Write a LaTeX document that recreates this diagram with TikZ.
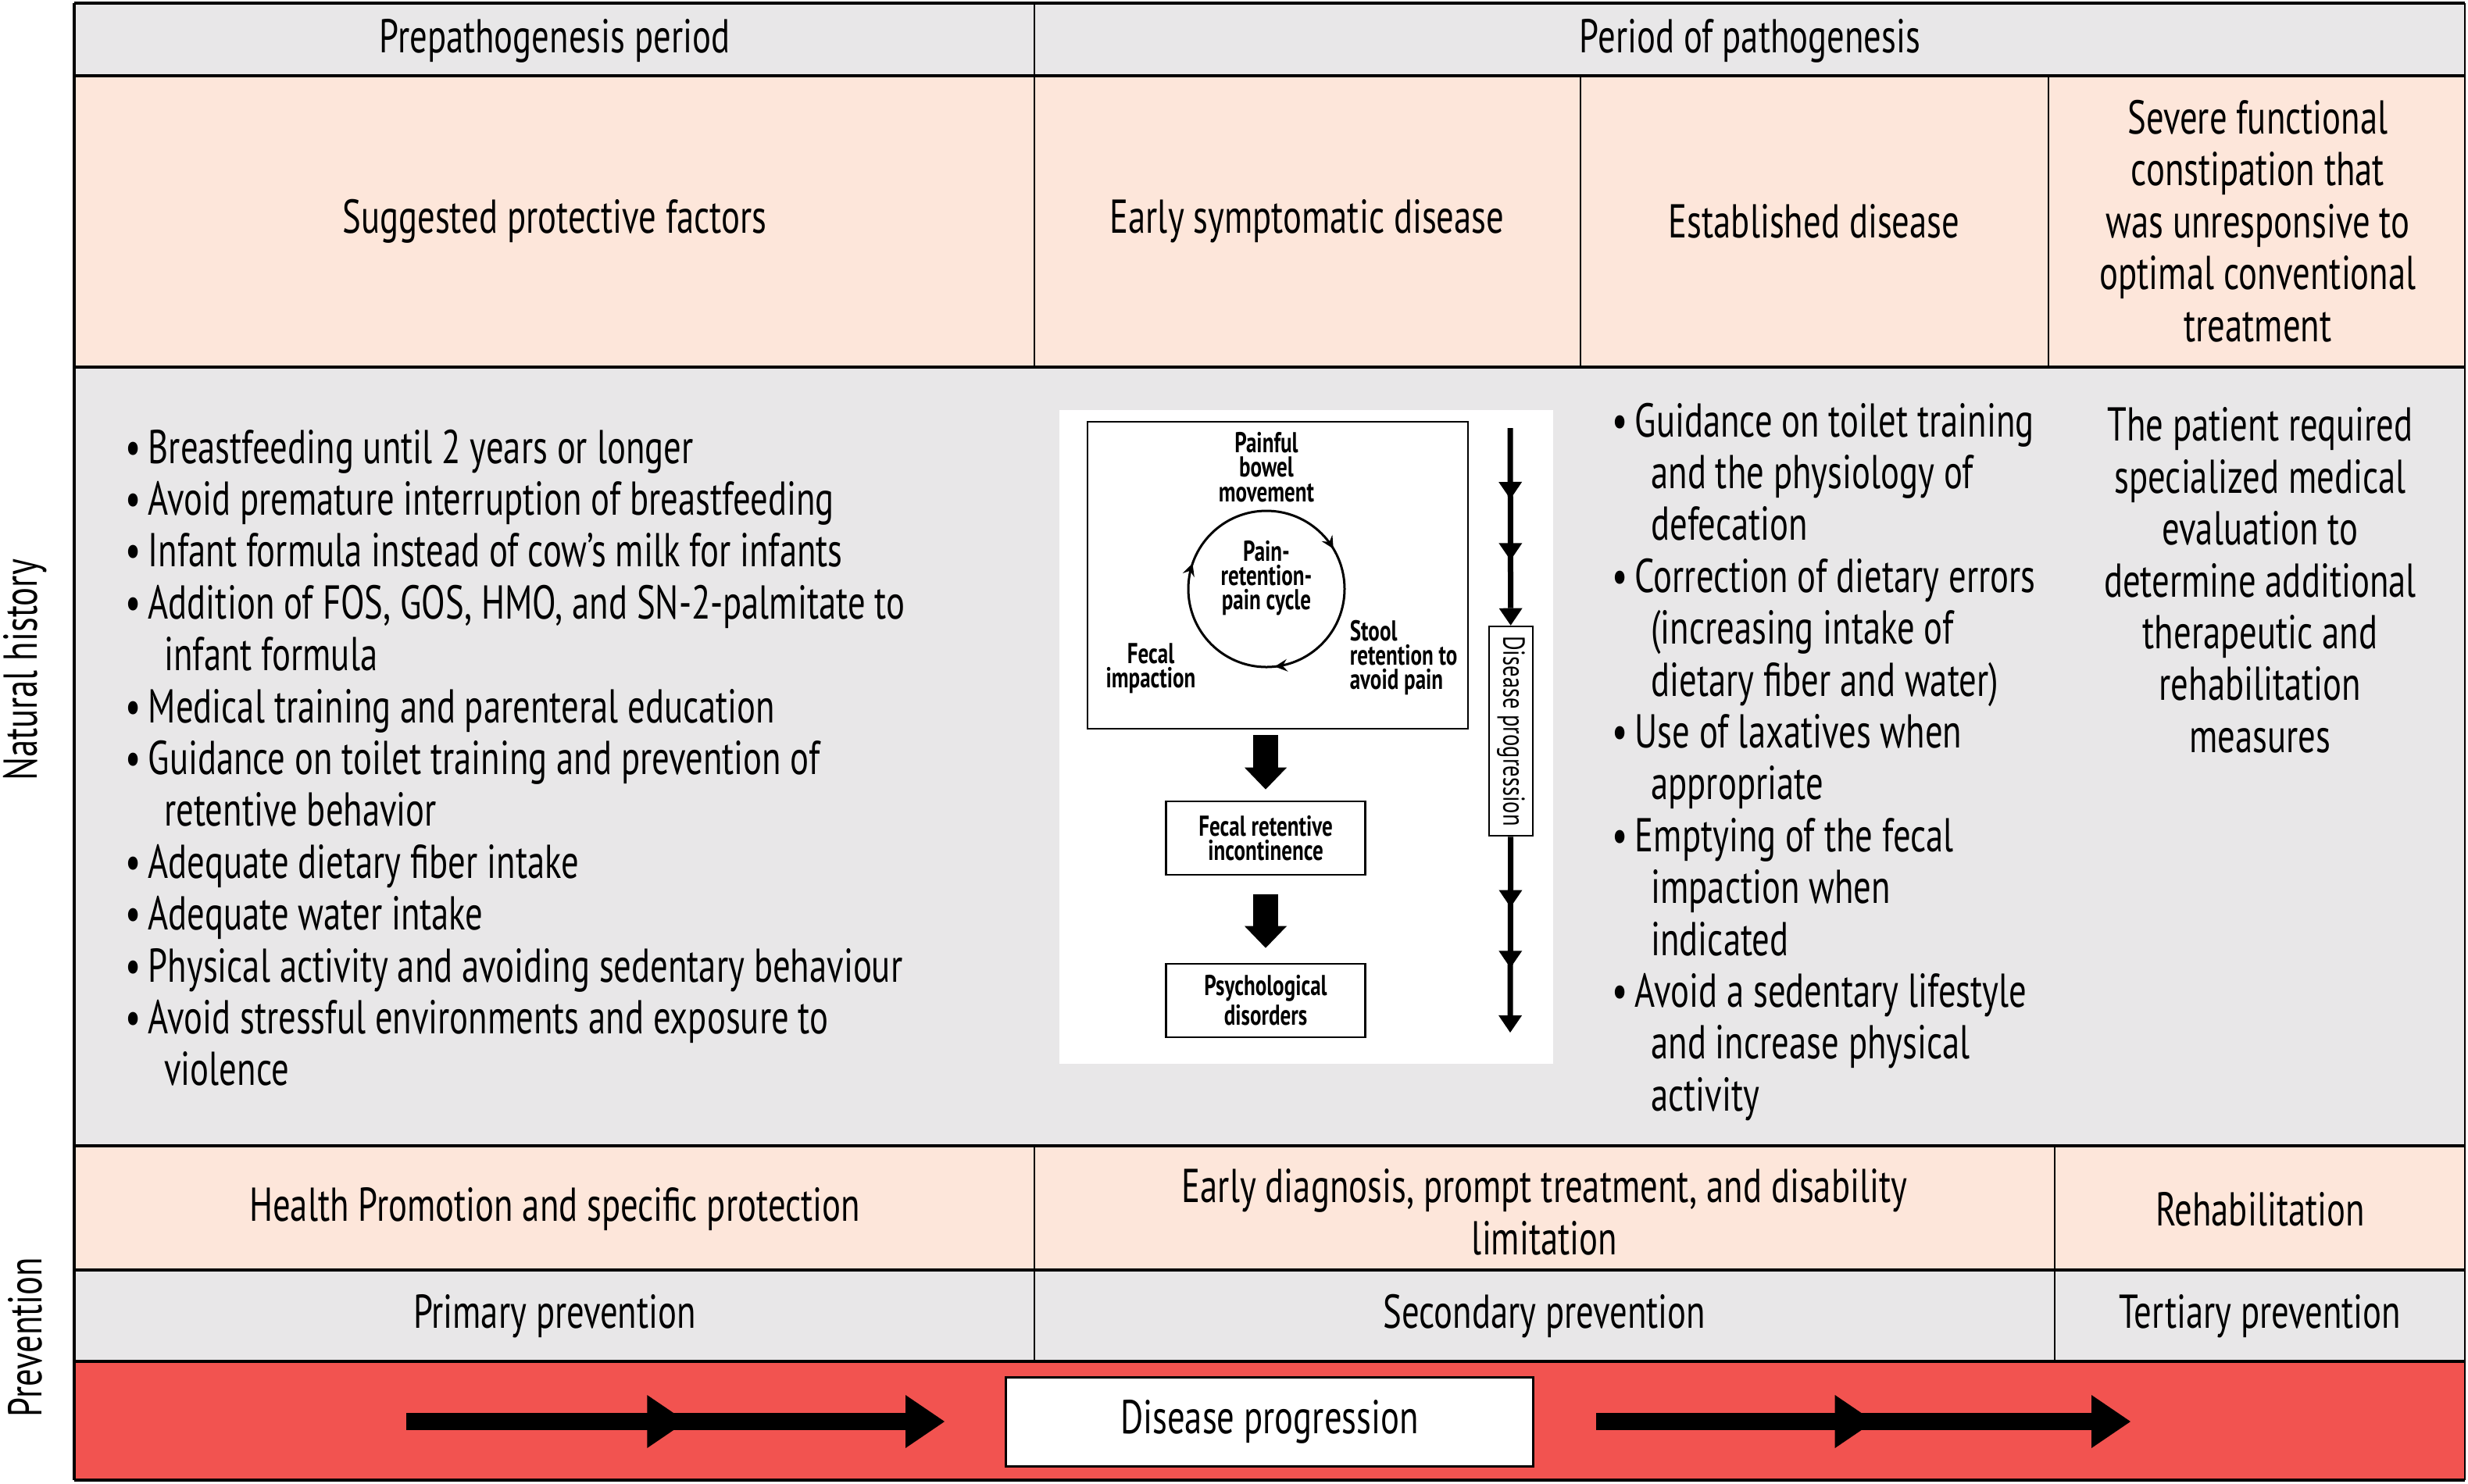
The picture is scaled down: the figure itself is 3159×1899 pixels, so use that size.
\documentclass[tikz,border=0pt]{standalone}
\usepackage{fontspec}
\setmainfont{PT Sans}[FakeStretch=0.735]
\usepackage{xcolor}
\usepackage{tikz}
\usetikzlibrary{arrows,arrows.meta,decorations.markings}
\definecolor{grayrow}{HTML}{E8E7E8}
\definecolor{peach}{HTML}{FDE6DA}
\definecolor{redrow}{HTML}{F25350}
\newcommand{\bulit}{\makebox[7.25pt][l]{\textbullet}}
\newcommand{\contin}{\hspace*{12.4pt}}

\begin{document}
\begin{tikzpicture}[x=0.25pt, y=-0.25pt, >=stealth,
        txt/.style={font=\fontsize{15.2}{16.6}\selectfont, align=center, inner sep=0pt},
        lst/.style={txt, align=left, anchor=north west},
        hline/.style={line width=1pt},
        vline/.style={line width=0.7pt},
        sml/.style={font=\bfseries\fontsize{9.2}{7.8}\selectfont, align=center, inner sep=0pt},
        bx/.style={draw, line width=0.65pt, minimum width=63.75pt, minimum height=23.5pt, sml},
        blk/.style={line width=8pt, -{Triangle[length=7pt,width=13.5pt,line width=0pt]}},
        prog/.style={line width=5.5pt, -{Triangle[length=12.5pt,width=17pt,line width=0pt]},
            postaction={decorate}, decoration={markings,
            mark=at position 0.52 with {\arrow{Triangle[length=12.5pt,width=17pt,line width=0pt]}}}},
        vln/.style={line width=1.75pt, -{Triangle[length=5.5pt,width=7.5pt,line width=0pt]},
            postaction={decorate}, decoration={markings,
            mark=at position 0.36 with {\arrow{Triangle[length=5.5pt,width=7.5pt,line width=0pt]}},
            mark=at position 0.67 with {\arrow{Triangle[length=5.5pt,width=7.5pt,line width=0pt]}}}}]

        \useasboundingbox (0,0) rectangle (3159,1899);
        \fill[grayrow] (95,4) rectangle (3155,97);
        \fill[peach] (95,97) rectangle (3155,470);
        \fill[grayrow] (95,470) rectangle (3155,1467);
        \fill[peach] (95,1467) rectangle (3155,1626);
        \fill[grayrow] (95,1626) rectangle (3155,1743);
        \fill[redrow] (95,1743) rectangle (3155,1895);
        \foreach \y in {4,97,470,1467,1626,1743,1895}
            \draw[hline] (95,\y) -- (3155,\y);
        \draw[hline] (95,4) -- (95,1895);
        \draw[vline] (3155,4) -- (3155,1895);
        \draw[vline] (1324,4) -- (1324,470) (2023,97) -- (2023,470) (2622,97) -- (2622,470);
        \draw[vline] (1324,1467) -- (1324,1743) (2630,1467) -- (2630,1743);

        \node[txt] (prep) at (710,52) {Prepathogenesis period};
        \node[txt] (path) at (2240,52) {Period of pathogenesis};
        \node[txt] (spf) at (710,283) {Suggested protective factors};
        \node[txt] (esd) at (1673,283) {Early symptomatic disease};
        \node[txt] (est) at (2322,283) {Established disease};
        \node[txt] (sfc) at (2890,283) {Severe functional\\constipation that\\was unresponsive to\\optimal conventional\\treatment};

        \node[txt, rotate=90] (nh) at (32,858) {Natural history};
        \node[txt, rotate=90] (pv) at (32,1712) {Prevention};

        \node[lst] (pfl) at (160,549) {\bulit Breastfeeding until 2 years or longer\\
            \bulit Avoid premature interruption of breastfeeding\\
            \bulit Infant formula instead of cow’s milk for infants\\
            \bulit Addition of FOS, GOS, HMO, and SN-2-palmitate to\\
            \contin infant formula\\
            \bulit Medical training and parenteral education\\
            \bulit Guidance on toilet training and prevention of\\
            \contin retentive behavior\\
            \bulit Adequate dietary fiber intake\\
            \bulit Adequate water intake\\
            \bulit Physical activity and avoiding sedentary behaviour\\
            \bulit Avoid stressful environments and exposure to\\
            \contin violence};
        \node[lst] (edl) at (2063,515) {\bulit Guidance on toilet training\\
            \contin and the physiology of\\
            \contin defecation\\
            \bulit Correction of dietary errors\\
            \contin (increasing intake of\\
            \contin dietary fiber and water)\\
            \bulit Use of laxatives when\\
            \contin appropriate\\
            \bulit Emptying of the fecal\\
            \contin impaction when\\
            \contin indicated\\
            \bulit Avoid a sedentary lifestyle\\
            \contin and increase physical\\
            \contin activity};
        \node[txt, anchor=north] (sme) at (2893,521) {The patient required\\specialized medical\\evaluation to\\determine additional\\therapeutic and\\rehabilitation\\measures};

        \fill[white] (1356,525) rectangle (1988,1362);
        \node[draw, line width=0.65pt, minimum width=121.75pt, minimum height=98.25pt] (cb) at (1635.5,736.5) {};
        \node[sml] (pbm) at (1621,598) {Painful\\bowel\\movement};
        \coordinate (cyc) at (1621,754);
        \draw[line width=0.75pt, postaction={decorate}, decoration={markings,
            mark=at position 0.233 with {\arrow{>}},
            mark=at position 0.553 with {\arrow{>}},
            mark=at position 0.914 with {\arrow{>}}}] (cyc) circle (100);
        \node[sml] (prc) at (1621,740) {Pain-\\retention-\\pain cycle};
        \node[sml, align=left, anchor=west] (srp) at (1727,842) {Stool\\retention to\\avoid pain};
        \node[sml] (fim) at (1473,856) {Fecal\\impaction};
        \node[bx] (fri) at (1620,1073) {Fecal retentive\\incontinence};
        \node[bx] (psy) at (1620,1281) {Psychological\\disorders};
        \draw[blk, shorten <=1.75pt, shorten >=3.5pt] (cb.south -| fri) -- (fri);
        \draw[blk, shorten <=6pt, shorten >=4.75pt] (fri) -- (psy);

        \node[draw, line width=0.65pt, rotate=-90, minimum width=67pt, minimum height=14pt, inner sep=0pt,
            font=\fontsize{9.7}{10}\selectfont] (dpv) at (1934,936) {Disease progression};
        \coordinate (dtop) at (1933,548);
        \coordinate (dbot) at (1933,1322);
        \draw[vln] (dtop) -- (dpv);
        \draw[vln] (dpv) -- (dbot);

        \node[txt] (hps) at (710,1548) {Health Promotion and specific protection};
        \node[txt] (edp) at (1977,1552) {Early diagnosis, prompt treatment, and disability\\limitation};
        \node[txt] (reh) at (2893,1548) {Rehabilitation};
        \node[txt] (prim) at (710,1685) {Primary prevention};
        \node[txt] (sec) at (1977,1685) {Secondary prevention};
        \node[txt] (ter) at (2893,1685) {Tertiary prevention};

        \node[txt, draw, fill=white, line width=0.75pt, minimum width=168.75pt, minimum height=28.5pt] (dpr) at (1625,1820) {Disease progression};
        \coordinate (ra) at (520,1820);
        \coordinate (rb) at (1209,1820);
        \coordinate (rc) at (2043,1820);
        \coordinate (rd) at (2727,1820);
        \draw[prog] (ra) -- (rb);
        \draw[prog] (rc) -- (rd);

    \end{tikzpicture}
\end{document}
